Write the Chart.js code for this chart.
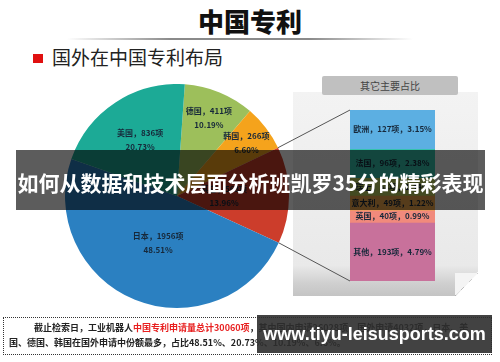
<!DOCTYPE html>
<html>
<head>
<meta charset="utf-8">
<script src="https://cdn.jsdelivr.net/npm/chart.js@4"></script>
<style>
  html, body { margin: 0; padding: 0; background: #fff; }
  body { width: 500px; height: 362px; position: relative; overflow: hidden;
         font-family: "Noto Sans CJK SC", "Noto Sans", sans-serif; }
  .abs { position: absolute; white-space: nowrap; }
  #title { left: 0; top: 4px; width: 500px; text-align: center; font-size: 26px;
           font-weight: 900; color: #111; line-height: 34px; }
  #rule { left: 67px; top: 38px; width: 346px; height: 2px;
          background: linear-gradient(to right, rgba(150,150,150,0), #8a8a8a 30%, #8a8a8a 70%, rgba(150,150,150,0)); }
  #subtitle { left: 33px; top: 44px; font-size: 19px; color: #222; line-height: 26px; }
  #subtitle span.sq { display: inline-block; width: 10px; height: 9px; background: #e01010;
                      margin-right: 9px; vertical-align: 2px; }
  #panel { left: 293px; top: 92px; width: 185px; height: 204px;
           background: linear-gradient(to bottom, #f3f3f3 0%, #e9e9e9 85%, #cfcfcf 94%, #c4c4c4 100%);
           clip-path: polygon(0 0, 100% 0, 100% 88%, 88% 100%, 0 100%); }
  #fold { left: 455px; top: 273px; width: 23px; height: 23px;
          background: linear-gradient(135deg, #f4f4f4 50%, #9a9a9a 50%);
          clip-path: polygon(0 100%, 100% 0, 0 0); }
  #tab { left: 322px; top: 76px; width: 136px; height: 19px; background: #c0c0c0;
         border-radius: 2px; text-align: center; font-size: 10px; color: #444; line-height: 19px; }
  #banner { left: 16px; top: 150px; width: 469px; height: 60px; background: rgba(0,0,0,0.64);
            color: #fff; font-weight: 700; font-size: 21px; line-height: 64px; text-align: center;
            letter-spacing: 0px; }
  #note { left: 3px; top: 317px; width: 487px; height: 34px; border: 1.5px dotted #333;
          font-size: 9px; font-weight: 700; color: #222; line-height: 15px; padding-top: 2px; }
  #note .red { color: #e82020; }
  #mark { left: 257px; top: 315px; width: 235px; height: 38px; background: rgba(45,45,45,0.9);
          color: #fff; font-family: "Liberation Sans", sans-serif; font-weight: 700; font-size: 18px;
          line-height: 38px; text-align: center; }
</style>
</head>
<body>
<div id="title" class="abs">中国专利</div>
<div id="rule" class="abs"></div>
<div id="subtitle" class="abs"><span class="sq"></span>国外在中国专利布局</div>
<div id="panel" class="abs"></div>
<div id="fold" class="abs"></div>
<div id="tab" class="abs">其它主要占比</div>
<canvas id="links" class="abs" width="500" height="362" style="left:0;top:0;"></canvas>
<canvas id="other-bar" class="abs" width="85" height="171" style="left:350px;top:110px;"></canvas>
<canvas id="patent-pie" class="abs" width="224" height="224" style="left:65px;top:84px;"></canvas>
<div id="banner" class="abs">如何从数据和技术层面分析班凯罗35分的精彩表现</div>
<div id="note" class="abs">
  <div style="padding-left:30px;">截止检索日，工业机器人<span class="red">中国专利申请量总计30060项</span>，其中国内申请26028项，国外申请4032项，日本、美</div>
  <div style="padding-left:5px;">国、德国、韩国在国外申请中份额最多，占比48.51%、20.73%、10.19%、6.6%。</div>
</div>
<div id="mark" class="abs">www.tiyu-leisusports.com</div>

<script>
// Données du camembert (demandes étrangères en Chine)
const pieLabels = ['德国', '韩国', '其它', '日本', '美国'];
const pieCounts = [411, 266, 563, 1956, 836];
const piePercents = ['10.19%', '6.60%', '13.96%', '48.51%', '20.73%'];
const pieColors = ['#9dbf5b', '#f5a31c', '#cc3d2b', '#2b80c1', '#1caa96'];

// Données de la barre "其它主要占比"
const otherLabels = ['欧洲', '法国', '瑞士', '意大利', '英国', '其他'];
const otherCounts = [127, 96, 58, 49, 40, 193];
const otherPercents = ['3.15%', '2.38%', '1.44%', '1.22%', '0.99%', '4.79%'];
const otherColors = ['#5cafe2', '#35c2ad', '#b9cc5c', '#eea64c', '#f18a7c', '#c8719b'];

const LABEL_FONT = 'bold 8px "Noto Sans CJK SC", sans-serif';

// Étiquettes dans les secteurs
const pieLabelPlugin = {
    id: 'pieLabels',
    afterDatasetsDraw(chart) {
        const ctx = chart.ctx;
        const radial = [0.75, 0.78, 0.42, 0.45, 0.6];
        ctx.save();
        ctx.font = LABEL_FONT;
        ctx.fillStyle = '#17283a';
        ctx.textAlign = 'center';
        ctx.textBaseline = 'middle';
        chart.getDatasetMeta(0).data.forEach((arc, i) => {
            const mid = (arc.startAngle + arc.endAngle) / 2;
            const r = arc.outerRadius * radial[i];
            const x = arc.x + Math.cos(mid) * r;
            const y = arc.y + Math.sin(mid) * r;
            ctx.fillText(pieLabels[i] + '，' + pieCounts[i] + '项', x, y - 7);
            ctx.fillText(piePercents[i], x, y + 7);
        });
        ctx.restore();
    }
};

// Étiquettes dans la barre empilée
const barLabelPlugin = {
    id: 'barLabels',
    afterDatasetsDraw(chart) {
        const ctx = chart.ctx;
        ctx.save();
        ctx.font = LABEL_FONT;
        ctx.fillStyle = '#17283a';
        ctx.textAlign = 'center';
        ctx.textBaseline = 'middle';
        chart.data.datasets.forEach((ds, i) => {
            const el = chart.getDatasetMeta(i).data[0];
            ctx.fillText(otherLabels[i] + '，' + otherCounts[i] + '项，' + otherPercents[i], el.x, (el.y + el.base) / 2);
        });
        ctx.restore();
    }
};

const pieChart = new Chart(document.getElementById('patent-pie'), {
    type: 'pie',
    data: {
        labels: pieLabels,
        datasets: [{
            data: pieCounts,
            backgroundColor: pieColors,
            borderWidth: 0
        }]
    },
    options: {
        responsive: false,
        animation: false,
        rotation: 4,
        layout: { padding: 0 },
        plugins: { legend: { display: false }, tooltip: { enabled: false } }
    },
    plugins: [pieLabelPlugin]
});

const barChart = new Chart(document.getElementById('other-bar'), {
    type: 'bar',
    data: {
        labels: ['其它'],
        datasets: otherLabels.map((label, i) => ({
            label: label,
            data: [otherCounts[i]],
            backgroundColor: otherColors[i],
            borderWidth: 0,
            barPercentage: 1,
            categoryPercentage: 1
        }))
    },
    options: {
        responsive: false,
        animation: false,
        layout: { padding: 0 },
        scales: {
            x: { stacked: true, display: false },
            y: { stacked: true, display: false, reverse: true, min: 0,
                 max: otherCounts.reduce((a, b) => a + b, 0) }
        },
        plugins: { legend: { display: false }, tooltip: { enabled: false } }
    },
    plugins: [barLabelPlugin]
});

/**
 * Trace les lignes reliant le secteur "其它" à la barre détaillée
 */
function drawLinks() {
    const ctx = document.getElementById('links').getContext('2d');
    const pieBox = document.getElementById('patent-pie');
    const barBox = document.getElementById('other-bar');
    const px = pieBox.offsetLeft, py = pieBox.offsetTop;
    const bx = barBox.offsetLeft, by = barBox.offsetTop;

    const arc = pieChart.getDatasetMeta(0).data[2];
    const first = barChart.getDatasetMeta(0).data[0];
    const last = barChart.getDatasetMeta(otherLabels.length - 1).data[0];

    const a1 = { x: px + arc.x + Math.cos(arc.startAngle) * arc.outerRadius,
                 y: py + arc.y + Math.sin(arc.startAngle) * arc.outerRadius };
    const a2 = { x: px + arc.x + Math.cos(arc.endAngle) * arc.outerRadius,
                 y: py + arc.y + Math.sin(arc.endAngle) * arc.outerRadius };
    const b1 = { x: bx + first.x - first.width / 2, y: by + Math.min(first.y, first.base) };
    const b2 = { x: bx + last.x - last.width / 2, y: by + Math.max(last.y, last.base) };

    ctx.strokeStyle = '#555';
    ctx.lineWidth = 1;
    ctx.beginPath();
    ctx.moveTo(a1.x, a1.y);
    ctx.lineTo(b1.x, b1.y);
    ctx.moveTo(a2.x, a2.y);
    ctx.lineTo(b2.x, b2.y);
    ctx.stroke();
}

drawLinks();
</script>
</body>
</html>
